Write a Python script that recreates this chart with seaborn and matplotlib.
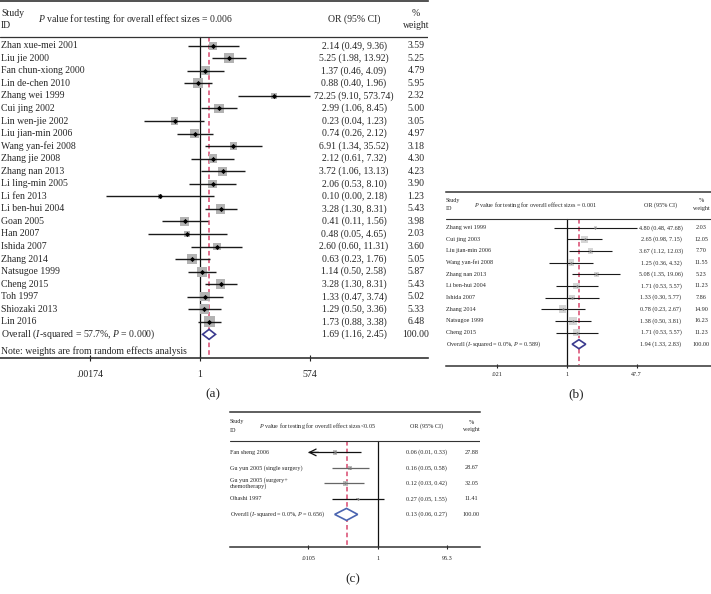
import numpy as np
import matplotlib
matplotlib.use("Agg")
import matplotlib.pyplot as plt
import seaborn as sns

# ---------------- data: panel (a) ----------------
studies_a = ["Zhan xue-mei 2001", "Liu jie 2000", "Fan chun-xiong 2000", "Lin de-chen 2010",
             "Zhang wei 1999", "Cui jing 2002", "Lin wen-jie 2002", "Liu jian-min 2006",
             "Wang yan-fei 2008", "Zhang jie 2008", "Zhang nan 2013", "Li ling-min 2005",
             "Li fen 2013", "Li ben-hui 2004", "Goan 2005", "Han 2007", "Ishida 2007",
             "Zhang 2014", "Natsugoe 1999", "Cheng 2015", "Toh 1997", "Shiozaki 2013", "Lin 2016"]
or_a = [2.14, 5.25, 1.37, 0.88, 72.25, 2.99, 0.23, 0.74, 6.91, 2.12, 3.72, 2.06,
        0.10, 3.28, 0.41, 0.48, 2.60, 0.63, 1.14, 3.28, 1.33, 1.29, 1.73]
lo_a = [0.49, 1.98, 0.46, 0.40, 9.10, 1.06, 0.04, 0.26, 1.34, 0.61, 1.06, 0.53,
        0.0045, 1.30, 0.11, 0.05, 0.60, 0.23, 0.50, 1.30, 0.47, 0.50, 0.88]
hi_a = [9.36, 13.92, 4.09, 1.96, 573.74, 8.45, 1.23, 2.12, 35.52, 7.32, 13.13, 8.10,
        2.18, 8.31, 1.56, 4.65, 11.31, 1.76, 2.58, 8.31, 3.74, 3.36, 3.38]
weight_a = [3.59, 5.25, 4.79, 5.95, 2.32, 5.00, 3.05, 4.97, 3.18, 4.30, 4.23, 3.90,
            1.23, 5.43, 3.98, 2.03, 3.60, 5.05, 5.87, 5.43, 5.02, 5.33, 6.48]
overall_a = [1.69, 1.16, 2.45]
i2_a, phet_a, peff_a = "57.7%", "0.000", " = 0.006"
ticks_a = [0.00174, 1, 574]
ticklabels_a = [".00174", "1", "574"]

# ---------------- data: panel (b) ----------------
studies_b = ["Zhang wei 1999", "Cui jing 2003", "Liu jian-min 2006", "Wang yan-fei 2008",
             "Zhang nan 2013", "Li ben-hui 2004", "Ishida 2007", "Zhang 2014",
             "Natsugoe 1999", "Cheng 2015"]
or_b = [4.80, 2.65, 3.67, 1.25, 5.08, 1.71, 1.33, 0.78, 1.38, 1.71]
lo_b = [0.48, 0.98, 1.12, 0.36, 1.35, 0.53, 0.30, 0.23, 0.50, 0.53]
hi_b = [47.68, 7.15, 12.03, 4.32, 19.06, 5.57, 5.77, 2.67, 3.81, 5.57]
weight_b = [2.03, 12.05, 7.70, 11.55, 5.23, 11.23, 7.86, 14.90, 16.23, 11.23]
overall_b = [1.94, 1.33, 2.83]
i2_b, phet_b, peff_b = "0.0%", "0.589", " = 0.001"
ticks_b = [0.021, 1, 47.7]
ticklabels_b = [".021", "1", "47.7"]

# ---------------- data: panel (c) ----------------
studies_c = ["Fan sheng 2006", "Gu yun 2005 (single surgery)",
             "Gu yun 2005 (surgery+\nchemotherapy)", "Ohashi 1997"]
or_c = [0.06, 0.16, 0.12, 0.27]
lo_c = [0.01, 0.05, 0.03, 0.05]
hi_c = [0.33, 0.58, 0.42, 1.55]
weight_c = [27.88, 28.67, 32.05, 11.41]
overall_c = [0.13, 0.06, 0.27]
i2_c, phet_c, peff_c = "0.0%", "0.656", "<0.05"
ticks_c = [0.0105, 1, 95.3]
ticklabels_c = [".0105", "1", "95.3"]

sns.set_theme(style="white")
plt.rcParams["font.family"] = ["Liberation Serif", "DejaVu Serif"]
plt.rcParams["mathtext.fontset"] = "custom"
plt.rcParams["mathtext.rm"] = "Liberation Serif"
plt.rcParams["mathtext.it"] = "Liberation Serif:italic"

W, H = 711, 594
fig = plt.figure(figsize=(W / 100, H / 100), dpi=100)
fig.patch.set_facecolor("white")


def forest(lay, names, ors, los, his, wts, overall, i2, phet, peff, ticks, ticklabels, note=None):
    left, top, right, bottom = lay["box"]
    ax = fig.add_axes([left / W, 1 - bottom / H, (right - left) / W, (bottom - top) / H])
    null, ppd = lay["null"], lay["ppd"]

    def fx(px):
        return (px - null) / ppd

    ax.set_xlim(fx(left), fx(right))
    ax.set_ylim(bottom, top)
    fs = lay["fs"]
    n = len(names)
    rows = lay["row0"] + lay["step"] * np.arange(n + 1)
    ly = rows[:n]
    lx = np.log10(ors)
    lo = np.log10(los)
    hi = np.log10(his)
    xmin = np.log10(ticks[0])

    # weight boxes
    sns.scatterplot(x=lx, y=ly, size=wts, sizes=(0, lay["sq"] * max(wts)), size_norm=(0, max(wts)),
                    marker="s", color=lay["sq_color"], linewidth=0, legend=False, ax=ax, zorder=2)
    # confidence intervals
    for i in range(n):
        a = max(lo[i], xmin)
        ax.plot([a, hi[i]], [ly[i], ly[i]], color=lay["ci"][i], lw=lay["ci_lw"], zorder=3,
                solid_capstyle="butt")
        if lo[i] < xmin:
            ax.annotate("", xy=(xmin, ly[i]), xytext=(a + 0.3, ly[i]),
                        arrowprops=dict(arrowstyle="->", color=lay["ci"][i], lw=lay["ci_lw"],
                                        shrinkA=0, shrinkB=0), zorder=3)
    ax.scatter(lx, ly, marker="D", s=lay["dot"], color=lay["dot_color"], linewidth=0, zorder=4)

    # null line and overall line
    hl = lay["hline"]
    ax.plot([0, 0], [hl, bottom], color="#111111", lw=0.9, zorder=1)
    ov = np.log10(overall)
    ax.plot([ov[0], ov[0]], [hl, bottom], color="#d9486e", lw=1.1, ls=(0, (3, 2)), zorder=1)
    yo = rows[n]
    dh = lay["dh"]
    ax.fill([ov[1], ov[0], ov[2], ov[0], ov[1]], [yo, yo - dh, yo, yo + dh, yo],
            facecolor="white", edgecolor=lay["dia"], lw=1.2, zorder=5)

    # header
    ax.axhline(hl, color="#333333", lw=lay["rule"])
    tx = fx(lay["study_x"])
    h0, h1 = lay["hdr"]
    hm = (h0 + h1) / 2
    ax.text(tx, h0, "Study", ha="left", va="center", fontsize=fs)
    ax.text(tx, h1, "ID", ha="left", va="center", fontsize=fs)
    ax.text(fx(lay["p_x"]), hm, "$P$ value for testing for overall effect sizes" + peff,
            ha="left", va="center", fontsize=fs)
    ax.text(fx(lay["or_x"]), hm, "OR (95% CI)", ha="center", va="center", fontsize=fs)
    ax.text(fx(lay["wt_x"]), h0, "%", ha="center", va="center", fontsize=fs)
    ax.text(fx(lay["wt_x"]), h1, "weight", ha="center", va="center", fontsize=fs)

    # rows of text
    for i in range(n):
        ax.text(tx, ly[i], names[i], ha="left", va="center", fontsize=fs, linespacing=1.0)
        ax.text(fx(lay["or_x"]), ly[i], f"{ors[i]:.2f} ({los[i]:.2f}, {his[i]:.2f})",
                ha="center", va="center", fontsize=fs)
        ax.text(fx(lay["wt_x"]), ly[i], f"{wts[i]:.2f}", ha="center", va="center", fontsize=fs)
    ax.text(tx, yo, f"Overall ($I$-squared = {i2}, $P$ = {phet})", ha="left", va="center", fontsize=fs)
    ax.text(fx(lay["or_x"]), yo, f"{overall[0]:.2f} ({overall[1]:.2f}, {overall[2]:.2f})",
            ha="center", va="center", fontsize=fs)
    ax.text(fx(lay["wt_x"]), yo, f"{100:.2f}", ha="center", va="center", fontsize=fs)
    if note:
        ax.text(tx, lay["note_y"], note, ha="left", va="center", fontsize=fs)

    # axis
    ax.set_xticks(np.log10(ticks))
    ax.set_xticklabels(ticklabels, fontsize=fs)
    ax.set_yticks([])
    ax.tick_params(axis="x", bottom=True, direction="inout", length=lay["tlen"], width=0.8,
                   pad=lay["tpad"], colors="#222222")
    for s in ["left", "right"]:
        ax.spines[s].set_visible(False)
    for s in ["top", "bottom"]:
        ax.spines[s].set_color("#333333")
        ax.spines[s].set_linewidth(lay["rule"] + 0.3)
    ax.patch.set_alpha(0)
    return ax


lay_a = dict(box=(0, 1, 428, 358), null=200, ppd=39.9, row0=45.7, step=12.55, hline=37,
             hdr=(13, 25.5), fs=7, study_x=1, p_x=38, or_x=354, wt_x=416, note_y=351,
             sq=9.1, sq_color="#b3b3b3", dot=7, dot_color="black", ci=["#1a1a1a"] * 23,
             ci_lw=1.0, dia="#3b3b8f", dh=5, rule=0.9, tlen=5, tpad=6)
lay_b = dict(box=(446, 192.3, 711, 365.5), null=567, ppd=41.5, row0=227.7, step=11.65, hline=219,
             hdr=(201, 209), fs=4.4, study_x=446, p_x=474, or_x=661, wt_x=701,
             sq=2.07, sq_color="#d6d6d6", dot=2, dot_color="#777777", ci=["#1a1a1a"] * 10,
             ci_lw=0.8, dia="#3b3b8f", dh=4.5, rule=0.8, tlen=3, tpad=3)
lay_c = dict(box=(230, 412, 480, 546.5), null=377.7, ppd=35.2, row0=452.4, step=15.5, hline=441,
             hdr=(422, 430), fs=4.4, study_x=230, p_x=258.5, or_x=426, wt_x=471.5,
             sq=0.33, sq_color="#bdbdbd", dot=2, dot_color="#777777",
             ci=["#111111", "#666666", "#666666", "#111111"],
             ci_lw=0.9, dia="#4a64b0", dh=6, rule=0.8, tlen=3, tpad=5)

forest(lay_a, studies_a, or_a, lo_a, hi_a, weight_a, overall_a, i2_a, phet_a, peff_a,
       ticks_a, ticklabels_a, note="Note: weights are from random effects analysis")
forest(lay_b, studies_b, or_b, lo_b, hi_b, weight_b, overall_b, i2_b, phet_b, peff_b,
       ticks_b, ticklabels_b)
forest(lay_c, studies_c, or_c, lo_c, hi_c, weight_c, overall_c, i2_c, phet_c, peff_c,
       ticks_c, ticklabels_c)

fig.text(213 / W, 1 - 394 / H, "(a)", ha="center", va="center", fontsize=9.5)
fig.text(576 / W, 1 - 394 / H, "(b)", ha="center", va="center", fontsize=9.5)
fig.text(353 / W, 1 - 579 / H, "(c)", ha="center", va="center", fontsize=9.5)

fig.savefig("out.png", dpi=100, facecolor="white")
